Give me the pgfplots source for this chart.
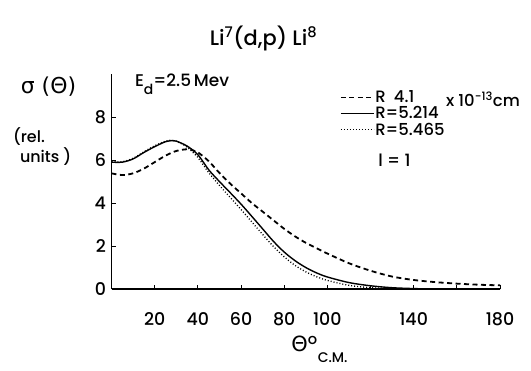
\documentclass[border=0pt]{standalone}
\usepackage{fontspec}
\setmainfont{Poppins}[UprightFont=* Medium]
\newfontfamily\grk{DejaVu Sans}
\usepackage{pgfplots}
\pgfplotsset{compat=1.18}
\pgfplotstableread{
x y
0 5.38
5 5.30
10 5.38
15 5.60
20 5.90
25 6.20
30 6.42
35 6.50
38 6.44
40 6.36
45 5.95
50 5.40
55 4.90
60 4.45
65 4.00
70 3.60
75 3.20
80 2.80
85 2.45
90 2.15
95 1.90
100 1.65
110 1.20
120 0.85
130 0.58
140 0.42
150 0.32
160 0.25
170 0.20
180 0.17
}\dashedR
\pgfplotstableread{
x y
0 5.90
5 5.90
10 6.05
15 6.35
20 6.62
25 6.85
28 6.90
30 6.88
35 6.65
40 6.25
45 5.55
50 5.00
55 4.48
60 3.95
65 3.38
70 2.80
75 2.22
80 1.72
85 1.32
90 1.00
95 0.75
100 0.56
110 0.30
120 0.15
130 0.06
140 0.02
150 0.00
180 0.00
}\solidR
\pgfplotstableread{
x y
0 5.92
5 5.92
10 6.08
15 6.38
20 6.66
25 6.88
28 6.92
30 6.88
35 6.60
40 6.12
45 5.42
50 4.82
55 4.26
60 3.70
65 3.12
70 2.54
75 1.98
80 1.50
85 1.10
90 0.80
95 0.57
100 0.40
110 0.17
120 0.06
130 0.02
140 0.00
180 0.00
}\dottedR
\begin{document}
\begin{tikzpicture}[x=1bp,y=1bp]
\begin{axis}[
  scale only axis,
  width=388.5bp, height=215bp,
  xmin=0, xmax=180, ymin=0, ymax=10,
  axis x line=bottom, axis y line=left,
  axis line style={black, line width=1.4bp, -},
  xtick={20,40,60,80,100,120,140,160,180},
  xticklabels={20,40,60,80,100,,140,,180},
  ytick={0,2,4,6,8},
  tick align=inside,
  major tick length=4bp,
  tick style={black, line width=0.9bp},
  /pgf/number format/assume math mode=true,
  ticklabel style={font=\fontsize{17.5}{17.5}\selectfont},
  xticklabel style={yshift=-20bp},
  yticklabel style={xshift=-2bp},
  clip=false,
  legend style={draw=none, fill=none, at={(0.580,0.935)}, anchor=north west,
    nodes={inner sep=0.5bp, font=\fontsize{16.5}{16.5}\selectfont}, row sep=1.5bp},
  legend cell align=left,
  legend image code/.code={\draw[#1] (0bp,0bp) -- (33bp,0bp);},
]
\addplot[black, line width=1.8bp, dash pattern=on 5bp off 3.5bp, smooth] table[x=x,y=y] {\dashedR};
\addlegendentry{R\enspace 4.1}
\addplot[black, line width=1.4bp, smooth] table[x=x,y=y] {\solidR};
\addlegendentry{R=5.214}
\addplot[black, line width=1.3bp, dash pattern=on 1bp off 2bp, smooth] table[x=x,y=y] {\dottedR};
\addlegendentry{R=5.465}
\end{axis}
% title and labels (coordinates in bp relative to axis origin)
\node[font=\fontsize{21}{21}\selectfont] at (152,251) {Li\textsuperscript{7}(d,p) Li\textsuperscript{8}};
\node[font=\fontsize{22}{22}\selectfont\grk] at (-63,202) {σ (Θ)};
\node[font=\fontsize{16}{16}\selectfont, anchor=west] at (-102,152) {(rel.};
\node[font=\fontsize{16}{16}\selectfont, anchor=west] at (-95,132) {units )};
\node[font=\fontsize{17}{17}\selectfont, anchor=west] at (20,205) {E\raisebox{-0.45em}{\fontsize{14}{14}\selectfont d}=2.5\,Mev};
\node[font=\fontsize{16.5}{16.5}\selectfont, anchor=west] at (331,190) {x 10\textsuperscript{−13}cm};
\node[font=\fontsize{17}{17}\selectfont] at (283,129) {l = 1};
\node[font=\fontsize{21}{21}\selectfont] at (208,-60) {{\grk Θ}\textsuperscript{o}\raisebox{-0.5em}{\fontsize{14}{14}\selectfont C.M.}};
\pgfresetboundingbox
\useasboundingbox (-111.5,-81) rectangle (419.5,289);
\end{tikzpicture}
\end{document}
